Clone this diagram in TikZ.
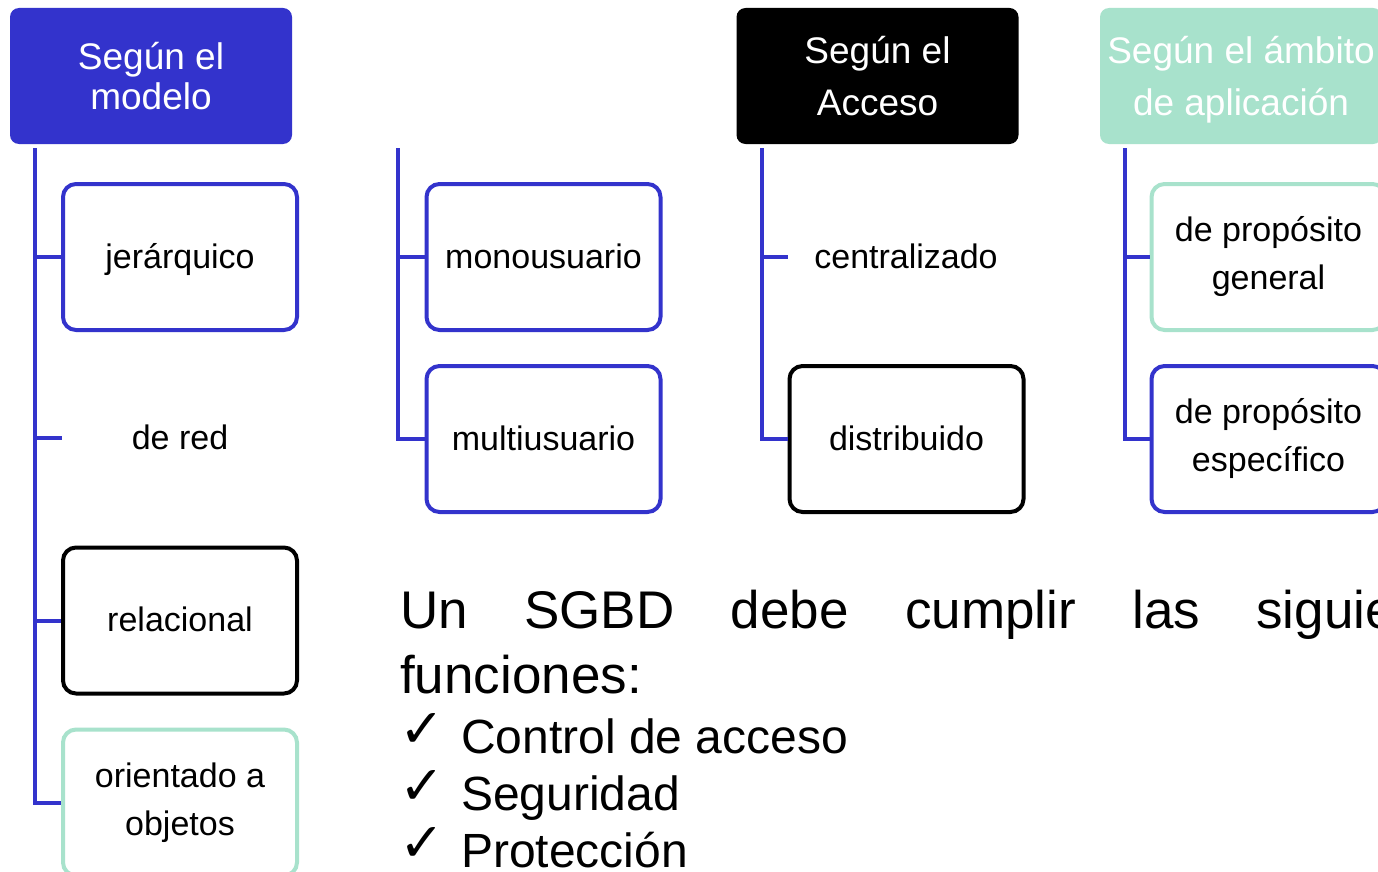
\documentclass[tikz,border=0pt]{standalone}
\usepackage{fontspec}
\setmainfont{Liberation Sans}
\newfontfamily\symfont{DejaVu Sans}
\definecolor{cblue}{RGB}{51,51,204}
\definecolor{cgreen}{RGB}{168,226,204}
\newcommand{\chk}{\makebox[62pt][l]{\raisebox{6pt}{\symfont\fontsize{54}{58}\selectfont ✓}}}
\begin{document}
\begin{tikzpicture}[x=1pt,y=-1pt,
  head/.style={rounded corners=9pt, minimum width=282pt, minimum height=136pt, inner sep=0pt, text=white, align=center, font=\fontsize{37}{52}\selectfont},
  box/.style={rounded corners=13pt, line width=4pt, minimum width=234pt, minimum height=146pt, inner sep=0pt, fill=white, align=center, font=\fontsize{34}{48}\selectfont},
  one/.style={text height=22pt, text depth=0pt},
  plain/.style={inner sep=0pt, align=center, font=\fontsize{34}{48}\selectfont, text height=22pt, text depth=0pt},
  conn/.style={draw=cblue, line width=4pt},
  bigtxt/.style={anchor=base west, inner sep=0pt, font=\fontsize{53}{60}\selectfont},
  itemtxt/.style={anchor=base west, inner sep=0pt, font=\fontsize{48}{58}\selectfont},
]
\useasboundingbox (0,0) rectangle (1378,872);
\clip (0,0) rectangle (1378,872);
\fill[white] (0,0) rectangle (1378,872);

% headers
\node[head, fill=cblue, font=\fontsize{37}{40}\selectfont] (h1) at (151,76) {Según el\\modelo};
\node[head, fill=black] (h3) at (877.5,76) {Según el\\Acceso};
\node[head, fill=cgreen, text depth=0pt] (h4) at (1241,76) {Según el ámbito\\de aplicación};

% trunk tops
\coordinate (t1) at (35,148);
\coordinate (t2) at (398,148);
\coordinate (t3) at (762,148);
\coordinate (t4) at (1125,148);

% children
\node[box, one, draw=cblue] (jer) at (180,257) {jerárquico};
\node[plain] (red) at (180,438) {de red};
\coordinate (redc) at (62,438);
\node[box, one, draw=black] (rel) at (180,620.5) {relacional};
\node[box, draw=cgreen] (ori) at (180,802.5) {orientado a\\objetos};

\node[box, one, draw=cblue] (mono) at (543.5,257) {monousuario};
\node[box, one, draw=cblue] (multi) at (543.5,439) {multiusuario};

\node[plain] (cen) at (906,257) {centralizado};
\coordinate (cenc) at (788,257);
\node[box, one, draw=black] (dist) at (906.5,439) {distribuido};

\node[box, draw=cgreen] (gen) at (1268.5,257) {de propósito\\general};
\node[box, draw=cblue] (esp) at (1268.5,439) {de propósito\\específico};

% connectors
\draw[conn] (t1) |- (jer.west);
\draw[conn] (t1) |- (redc);
\draw[conn] (t1) |- (rel.west);
\draw[conn] (t1) |- (ori.west);
\draw[conn] (t2) |- (mono.west);
\draw[conn] (t2) |- (multi.west);
\draw[conn] (t3) |- (cenc);
\draw[conn] (t3) |- (dist.west);
\draw[conn] (t4) |- (gen.west);
\draw[conn] (t4) |- (esp.west);

% text
\node[bigtxt] (l1) at (400,628) {\makebox[1095pt][s]{Un SGBD debe cumplir las siguientes}};
\node[bigtxt] (l2) at (400,693) {funciones:};
\node[itemtxt] (c1) at (399,753) {\chk Control de acceso};
\node[itemtxt] (c2) at (399,810) {\chk Seguridad};
\node[itemtxt] (c3) at (399,867) {\chk Protección};
\end{tikzpicture}
\end{document}
